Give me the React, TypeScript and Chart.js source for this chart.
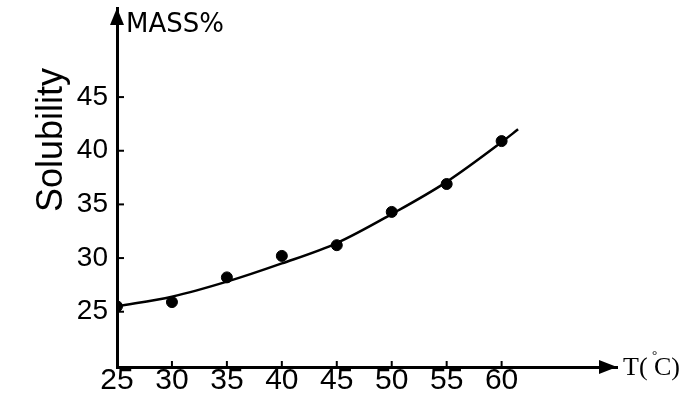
import React, { useEffect, useRef } from "react";
import { Chart, registerables } from "chart.js";

Chart.register(...registerables);

// Measured temperatures (°C) and solubility (mass %)
const temperatures = [25, 30, 35, 40, 45, 50, 55, 60];
const solubility = [25.5, 25.9, 28.2, 30.2, 31.2, 34.3, 36.9, 40.9];

// Fitted smooth curve as drawn in the figure
const curveT = [25, 30, 35, 40, 45, 50, 55, 60, 61.5];
const curveS = [25.5, 26.4, 27.8, 29.5, 31.4, 34.1, 37.1, 40.8, 42.0];

const xTickValues = [25, 30, 35, 40, 45, 50, 55, 60];
const yTickValues = [25, 30, 35, 40, 45];

const yAxisLabel = "Solubility";
const yUnitLabel = "MASS%";
const xLabelMain = "T(";
const xLabelDeg = "°";
const xLabelUnit = "C)";

const SANS = "'Liberation Sans', Arial, sans-serif";

const decorPlugin = {
  id: "decor",
  afterDraw(chart: any) {
    const { ctx, chartArea, scales } = chart;
    const { left, right, top, bottom } = chartArea;
    ctx.save();
    ctx.fillStyle = "#000";
    ctx.strokeStyle = "#000";
    // tick marks (inward)
    ctx.lineWidth = 2;
    scales.x.ticks.forEach((t: any) => {
      const px = scales.x.getPixelForValue(t.value);
      ctx.beginPath();
      ctx.moveTo(px, bottom);
      ctx.lineTo(px, bottom - 6);
      ctx.stroke();
    });
    scales.y.ticks.forEach((t: any) => {
      const py = scales.y.getPixelForValue(t.value);
      ctx.beginPath();
      ctx.moveTo(left, py);
      ctx.lineTo(left + 7, py);
      ctx.stroke();
    });
    // arrow heads
    ctx.beginPath();
    ctx.moveTo(left, top);
    ctx.lineTo(left - 7, top + 17);
    ctx.lineTo(left + 7, top + 17);
    ctx.closePath();
    ctx.fill();
    ctx.beginPath();
    ctx.moveTo(right, bottom);
    ctx.lineTo(right - 18, bottom - 7);
    ctx.lineTo(right - 18, bottom + 7);
    ctx.closePath();
    ctx.fill();
    // unit label on y axis
    ctx.font = "26px 'DejaVu Sans', sans-serif";
    ctx.textAlign = "left";
    ctx.textBaseline = "alphabetic";
    ctx.fillText(yUnitLabel, left + 9, top + 24);
    // rotated axis title
    ctx.save();
    ctx.translate(62, 140);
    ctx.rotate(-Math.PI / 2);
    ctx.font = "36px " + SANS;
    ctx.textAlign = "center";
    ctx.textBaseline = "alphabetic";
    ctx.fillText(yAxisLabel, 0, 0);
    ctx.restore();
    // x axis label
    ctx.font = "26px 'Liberation Serif', serif";
    ctx.textAlign = "left";
    ctx.textBaseline = "alphabetic";
    ctx.fillText(xLabelMain, right + 6, bottom + 8);
    ctx.fillText(xLabelUnit, right + 37, bottom + 8);
    ctx.font = "13px 'Liberation Serif', serif";
    ctx.fillText(xLabelDeg, right + 35, bottom - 8);
    ctx.restore();
  },
};

export default function App() {
  const ref = useRef<HTMLCanvasElement>(null);
  useEffect(() => {
    document.body.style.margin = "0";
    const canvas = ref.current;
    if (!canvas) return;
    const chart = new Chart(canvas, {
      type: "scatter",
      data: {
        datasets: [
          {
            type: "line",
            data: curveT.map((t, i) => ({ x: t, y: curveS[i] })),
            borderColor: "#000",
            borderWidth: 2.5,
            pointRadius: 0,
            cubicInterpolationMode: "monotone",
            fill: false,
          } as any,
          {
            data: temperatures.map((t, i) => ({ x: t, y: solubility[i] })),
            backgroundColor: "#000",
            borderColor: "#000",
            pointRadius: 5.5,
          },
        ],
      },
      options: {
        animation: false,
        responsive: false,
        events: [],
        layout: { padding: { left: 0, right: 62, top: 8, bottom: 0 } },
        plugins: { legend: { display: false }, tooltip: { enabled: false } },
        scales: {
          x: {
            type: "linear",
            min: 25,
            max: 70.5,
            afterBuildTicks: (s: any) => {
              s.ticks = xTickValues.map((v) => ({ value: v }));
            },
            afterFit: (s: any) => {
              s.height = 32;
              s.paddingLeft = 0;
              s.paddingRight = 0;
            },
            grid: { display: false, drawTicks: false },
            border: { display: true, color: "#000", width: 3 },
            ticks: {
              color: "#000",
              padding: -1,
              maxRotation: 0,
              autoSkip: false,
              font: { family: SANS, size: 30, lineHeight: 1 },
            },
          },
          y: {
            type: "linear",
            min: 19.85,
            max: 53.3,
            afterBuildTicks: (s: any) => {
              s.ticks = yTickValues.map((v) => ({ value: v }));
            },
            afterFit: (s: any) => {
              s.width = 117;
              s.paddingTop = 0;
              s.paddingBottom = 0;
            },
            grid: { display: false, drawTicks: false },
            border: { display: true, color: "#000", width: 3 },
            ticks: {
              color: "#000",
              padding: 9,
              autoSkip: false,
              font: { family: SANS, size: 28, lineHeight: 1 },
            },
          },
        },
      },
      plugins: [decorPlugin],
    });
    return () => chart.destroy();
  }, []);
  return (
    <div style={{ width: 679, height: 399, background: "#fff" }}>
      <canvas ref={ref} width={679} height={399} />
    </div>
  );
}
